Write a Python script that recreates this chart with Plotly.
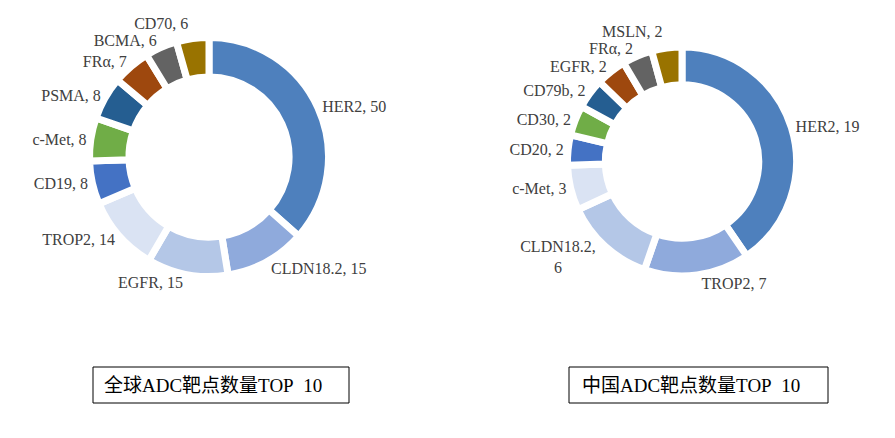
import plotly.graph_objects as go

W, H = 895, 438

global_labels = ["HER2", "CLDN18.2", "EGFR", "TROP2", "CD19", "c-Met", "PSMA", "FRα", "BCMA", "CD70"]
global_values = [50, 15, 15, 14, 8, 8, 8, 7, 6, 6]

china_labels = ["HER2", "TROP2", "CLDN18.2", "c-Met", "CD20", "CD30", "CD79b", "EGFR", "FRα", "MSLN"]
china_values = [19, 7, 6, 3, 2, 2, 2, 2, 2, 2]

palette = ["#4E80BD", "#8FAADC", "#B4C7E7", "#DAE3F3", "#4472C4",
           "#70AD47", "#255E91", "#9E480E", "#636363", "#997300"]

titles = ["全球ADC靶点数量TOP 10", "中国ADC靶点数量TOP 10"]


def px_x(p):
    return p / W


def px_y(p):
    return 1 - p / H


fig = go.Figure()

label_font = dict(family="Liberation Serif", size=16, color="#404040")
GAP = 7

fig.add_trace(go.Pie(
    labels=global_labels, values=global_values,
    sort=False, direction="clockwise", rotation=0,
    hole=0.67,
    marker=dict(colors=palette, line=dict(color="white", width=GAP)),
    textposition="outside", texttemplate="%{label}, %{value}",
    textfont=label_font, outsidetextfont=label_font,
    showlegend=False, automargin=False,
    domain=dict(x=[px_x(89.5), px_x(328.5)], y=[px_y(276.5), px_y(37.5)]),
))

china_tt = ["%{label}, %{value}"] * len(china_labels)
china_tt[2] = "%{label},<br>%{value}"

fig.add_trace(go.Pie(
    labels=china_labels, values=china_values,
    sort=False, direction="clockwise", rotation=0,
    hole=0.67,
    marker=dict(colors=palette, line=dict(color="white", width=GAP)),
    textposition="outside", texttemplate=china_tt,
    textfont=label_font, outsidetextfont=label_font,
    showlegend=False, automargin=False,
    domain=dict(x=[px_x(567.5), px_x(796.5)], y=[px_y(276), px_y(47)]),
))

boxes = [(93, 349), (569, 828)]
for (x0, x1), t in zip(boxes, titles):
    fig.add_shape(type="rect", xref="paper", yref="paper",
                  x0=px_x(x0), x1=px_x(x1), y0=px_y(403), y1=px_y(367),
                  line=dict(color="black", width=1), fillcolor="white")
    fig.add_annotation(xref="paper", yref="paper",
                       x=px_x((x0 + x1) / 2 - 8), y=px_y(385),
                       text=t.replace(" ", "&nbsp;&nbsp;"), showarrow=False,
                       font=dict(family="Liberation Serif, Noto Sans CJK SC", size=19, color="black"),
                       xanchor="center", yanchor="middle")

fig.update_layout(width=W, height=H, margin=dict(l=0, r=0, t=0, b=0),
                  paper_bgcolor="white", plot_bgcolor="white")

hide_lines = (
    "var s=document.createElement('style');"
    "s.textContent='path.textline{display:none}';"
    "document.head.appendChild(s);"
)
fig.write_html("out.html", post_script=hide_lines)
